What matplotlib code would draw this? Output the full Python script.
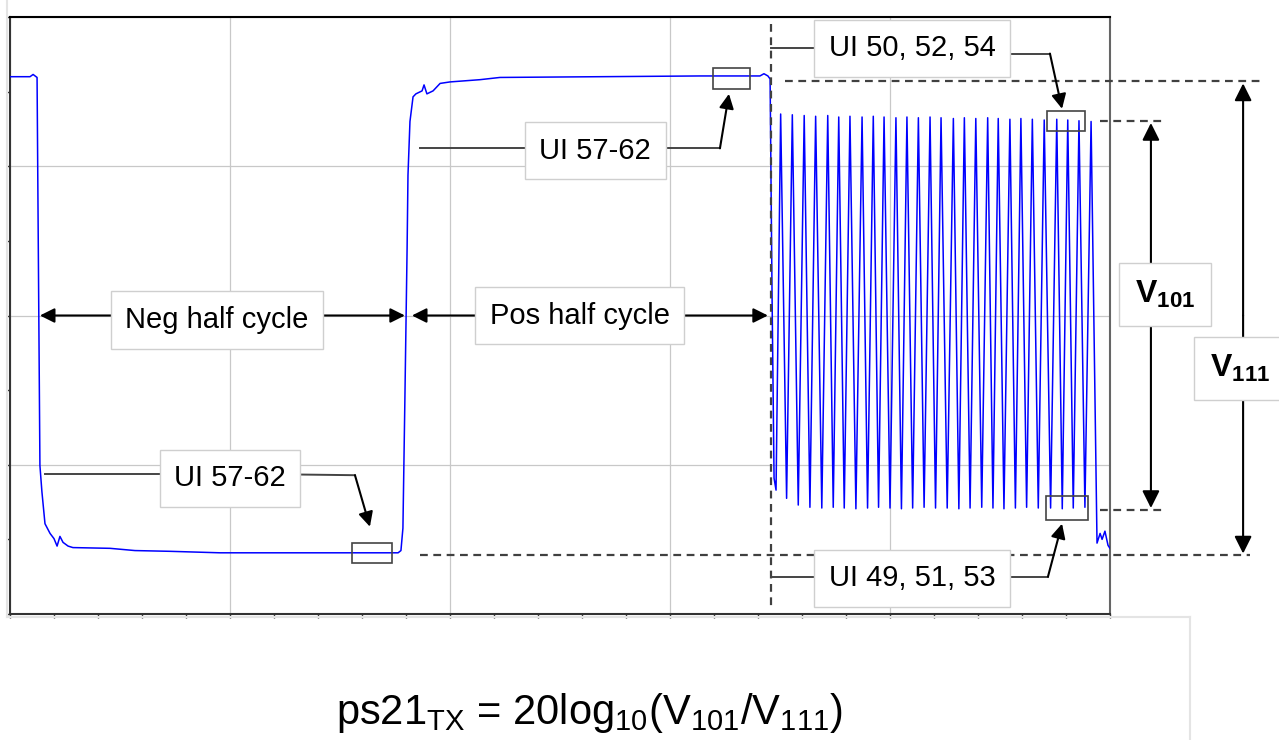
import matplotlib
matplotlib.use('Agg')
import matplotlib.pyplot as plt
from matplotlib.lines import Line2D
from matplotlib.patches import Rectangle

plt.rcParams['font.family'] = ['Liberation Sans', 'DejaVu Sans']
plt.rcParams['mathtext.fontset'] = 'custom'
plt.rcParams['mathtext.rm'] = 'Liberation Sans'
plt.rcParams['mathtext.it'] = 'Liberation Sans'
plt.rcParams['mathtext.bf'] = 'Liberation Sans:bold'

# time in tenths of a division, level in mV
step_t = [0, 0.91, 1.05, 1.14, 1.23, 1.27, 1.36, 1.45, 1.59, 1.82, 2.0,
          2.14, 2.27, 2.41, 2.64, 2.86, 4.55, 5.68, 7.27, 9.55, 13.18,
          17.64, 17.77, 17.86, 17.95, 18.05, 18.09, 18.18, 18.32, 18.45,
          18.73, 18.82, 18.95, 19.23, 19.55, 20.0, 21.36, 22.27, 26.8,
          31.36, 34.09, 34.27, 34.45, 34.55, 34.64, 34.73, 34.82]
step_v = [320, 320, 323, 321, 319, 157, -201, -236, -279, -292, -299,
          -309, -296, -304, -309, -311, -312, -315, -316, -318, -318,
          -318, -315, -285, -111, 90, 188, 260, 293, 297,
          301, 309, 297, 301, 311, 313, 316, 319, 320,
          321, 321, 324, 321, 317, 23, -218, -234]

peak_t = [35.03, 35.56, 36.10, 36.62, 37.17, 37.67, 38.18, 38.73, 39.24,
          39.73, 40.27, 40.77, 41.29, 41.82, 42.32, 42.88, 43.38, 43.90,
          44.44, 44.92, 45.45, 45.95, 46.47, 47.01, 47.58, 48.08, 48.59,
          49.14]
peak_v = [270, 269, 268, 267, 268, 266, 267, 266, 267, 266, 265, 266, 265,
          266, 265, 264, 265, 264, 265, 264, 263, 264, 263, 262, 263, 262,
          261, 260]

trough_t = [35.30, 35.83, 36.36, 36.90, 37.42, 37.92, 38.45, 38.98, 39.48,
            40.00, 40.52, 41.03, 41.55, 42.07, 42.60, 43.13, 43.64, 44.17,
            44.68, 45.18, 45.70, 46.21, 46.74, 47.30, 47.83, 48.33, 48.86]
trough_v = [-245, -254, -257, -258, -257, -258, -259, -258, -257, -258,
            -259, -258, -257, -258, -258, -259, -258, -257, -258, -259,
            -258, -257, -258, -258, -259, -258, -257]

tail_t = [49.41, 49.55, 49.64, 49.77, 49.91, 50.0]
tail_v = [-305, -292, -300, -289, -308, -312]

BOX = dict(boxstyle='square,pad=0.5', fc='white', ec='#cfcfcf', lw=1)


def _waveform():
    t, v = list(step_t), list(step_v)
    for i in range(len(peak_t)):
        t.append(peak_t[i])
        v.append(peak_v[i])
        if i < len(trough_t):
            t.append(trough_t[i])
            v.append(trough_v[i])
    return t + tail_t, v + tail_v


def _arrow(ax, start, tip, style='-|>', scale=22):
    ax.annotate('', xy=tip, xytext=start, annotation_clip=False,
                arrowprops=dict(arrowstyle=style, color='black', lw=1.5,
                                mutation_scale=scale, shrinkA=0, shrinkB=0),
                zorder=4)


def _leader(ax, ts, vs):
    ax.plot(ts, vs, color='#444444', lw=1.4, clip_on=False, zorder=4)


def _dashed(ax, ts, vs):
    ax.plot(ts, vs, color='#404040', lw=1.6, ls=(0, (3.5, 2.5)),
            clip_on=False, zorder=4)


def _label(ax, t, v, text, size=21):
    ax.text(t, v, text, ha='center', va='center', fontsize=size,
            bbox=BOX, zorder=5, clip_on=False)


def _mark(ax, t0, v0, t1, v1):
    ax.add_patch(Rectangle((t0, v0), t1 - t0, v1 - v0, fill=False,
                           ec='#444444', lw=1.2, clip_on=False, zorder=6))


fig = plt.figure(figsize=(12.79, 7.40), dpi=100)
ax = fig.add_axes([10/1279, 126/740, 1100/1279, 597/740])

t, v = _waveform()
ax.plot(t, v, color='#0000ff', lw=1.1, zorder=3)

ax.set_xlim(0, 50)
ax.set_ylim(-400, 400)
ax.set_xticks(range(0, 51, 10))
ax.set_xticks(range(0, 51, 2), minor=True)
ax.set_yticks(range(-400, 401, 200))
ax.set_yticks(range(-400, 401, 100), minor=True)
ax.tick_params(which='both', direction='out', length=3, width=1,
               color='#333333', labelbottom=False, labelleft=False)
ax.grid(which='major', color='#c8c8c8', lw=0.9)
ax.set_axisbelow(True)
for side, col in (('top', 'black'), ('left', '#333333'),
                  ('bottom', '#333333'), ('right', '#666666')):
    ax.spines[side].set_color(col)
    ax.spines[side].set_linewidth(1.5)

# half cycles
_arrow(ax, (9.4, 0), (1.36, 0))
_arrow(ax, (9.4, 0), (17.95, 0))
_label(ax, 9.4, -6, 'Neg half cycle')
_arrow(ax, (25.9, 0), (18.27, 0))
_arrow(ax, (25.9, 0), (34.45, 0))
_label(ax, 25.9, 0, 'Pos half cycle')

# UI 57-62 upper
_leader(ax, [18.64, 26.6], [224, 224])
_leader(ax, [26.6, 32.27], [224, 224])
_arrow(ax, (32.27, 224), (32.68, 297))
_label(ax, 26.6, 221, 'UI 57-62')
_mark(ax, 31.95, 304, 33.64, 331)

# UI 57-62 lower
_leader(ax, [1.59, 10], [-212, -212])
_leader(ax, [10, 15.68], [-212, -214])
_arrow(ax, (15.68, -214), (16.36, -283))
_label(ax, 10, -218, 'UI 57-62')
_mark(ax, 15.55, -332, 17.36, -305)

# dashed reference lines
_dashed(ax, [34.59, 34.59], [391, -393])
_dashed(ax, [35.23, 56.95], [313.6, 313.6])
_dashed(ax, [49.55, 52.4], [261, 261])
_dashed(ax, [49.55, 52.4], [-261, -261])
_dashed(ax, [18.64, 56.36], [-321.6, -321.6])

# UI 50, 52, 54
_leader(ax, [34.6, 41], [358, 358])
_leader(ax, [41, 47.27], [351, 351])
_arrow(ax, (47.27, 351), (47.82, 277))
_label(ax, 41, 358, 'UI 50, 52, 54')
_mark(ax, 47.14, 246.6, 48.86, 274.7)

# UI 49, 51, 53
_leader(ax, [34.6, 41], [-351, -351])
_leader(ax, [41, 47.18], [-350, -350])
_arrow(ax, (47.18, -350), (47.82, -279))
_label(ax, 41, -352, 'UI 49, 51, 53')
_mark(ax, 47.09, -274.7, 49.0, -242.5)

# amplitude arrows
_arrow(ax, (51.86, 0), (51.86, 258), scale=26)
_arrow(ax, (51.86, 0), (51.86, -258), scale=26)
_label(ax, 52.5, 28, r'$\mathbf{V_{101}}$', size=23)
_arrow(ax, (56.05, 0), (56.05, 311), scale=26)
_arrow(ax, (56.05, 0), (56.05, -319), scale=26)
_label(ax, 55.9, -71, r'$\mathbf{V_{111}}$', size=23)

# faint page frame
for xs, ys in (([7, 7], [0, 617]), ([7, 1190], [617, 617]),
               ([1190, 1190], [617, 740])):
    fig.add_artist(Line2D([x/1279 for x in xs], [1 - y/740 for y in ys],
                          color='#e4e4e4', lw=1.5,
                          transform=fig.transFigure))

fig.text(589/1279, 1 - 713/740,
         r'ps21$_{\mathrm{TX}}$ = 20log$_{10}$(V$_{101}$/V$_{111}$)',
         ha='center', va='center', fontsize=30)

fig.savefig('out.png', dpi=100)
